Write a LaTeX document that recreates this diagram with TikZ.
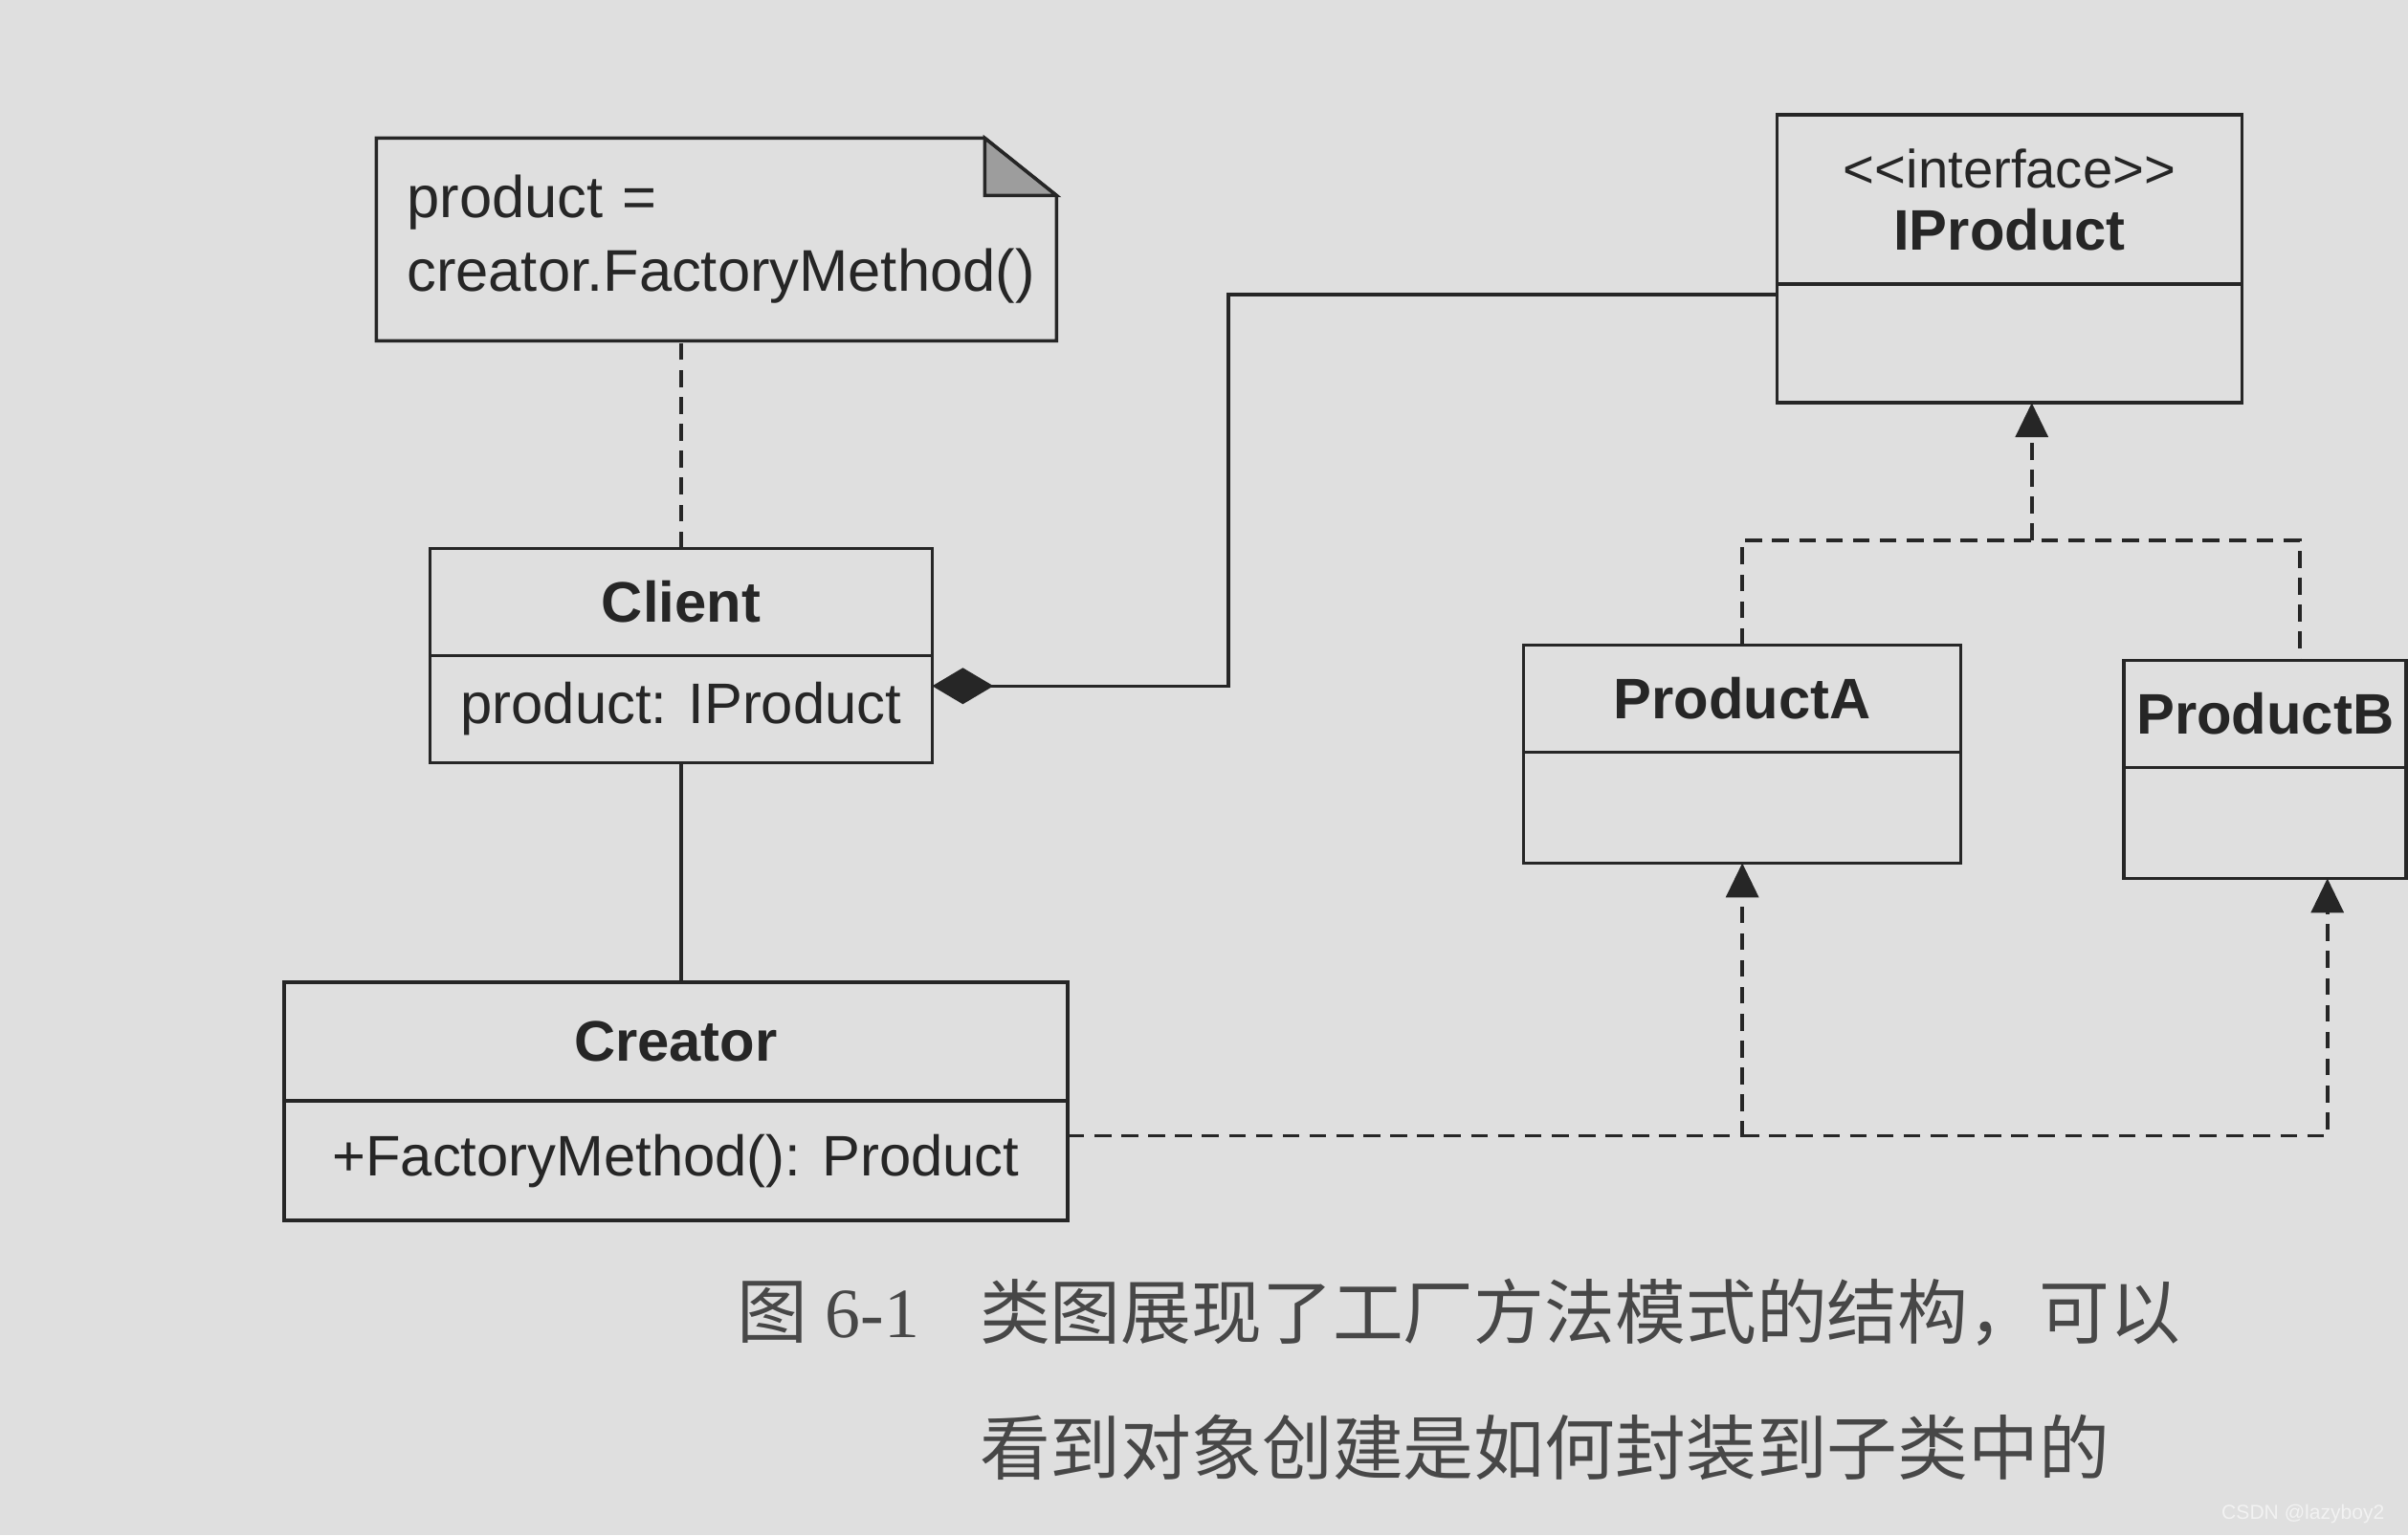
\documentclass[tikz,border=0pt]{standalone}
\usepackage{fontspec}
\setmainfont{Liberation Sans}
\newfontfamily\cjk{Noto Sans CJK SC}
\newfontfamily\serif{Liberation Serif}
\usetikzlibrary{positioning,arrows.meta}
\definecolor{paper}{HTML}{DFDFDF}
\definecolor{ink}{HTML}{262626}
\begin{document}
\begin{tikzpicture}[x=0.01605cm,y=-0.01605cm,
    every node/.style={outer sep=0pt,text=ink},
    classname/.style={draw=ink,line width=1pt,inner sep=0pt,font=\bfseries\fontsize{17}{20}\selectfont},
    classbody/.style={draw=ink,line width=1pt,inner sep=0pt,font=\fontsize{17}{21}\selectfont},
    notetext/.style={inner xsep=0.32cm,inner ysep=0pt,text width=6.47cm,minimum height=2.12cm,align=left,font=\fontsize{17.5}{22}\selectfont},
    caption/.style={inner sep=0pt,text=ink!85,font=\cjk\fontsize{21}{25}\selectfont},
    link/.style={draw=ink,line width=1pt},
    dashlink/.style={link,dash pattern=on 5pt off 3pt},
    realize/.style={dashlink,-{Triangle[length=3.6mm,width=3.4mm]}},
    owns/.style={link,{Diamond[length=6.4mm,width=3.8mm]}-}]
    \fill[paper] (0,0) rectangle (1568,1000);
    \useasboundingbox (0,0) rectangle (1568,1000);

    \node[notetext] (note) at (466.5,156) {product =\\creator.FactoryMethod()};
    \draw[link] (note.north west) -- ([xshift=-0.75cm]note.north east) -- ([yshift=-0.6cm]note.north east) -- (note.south east) -- (note.south west) -- cycle;
    \filldraw[link,fill=ink!45] ([xshift=-0.75cm]note.north east) -- ([xshift=-0.75cm,yshift=-0.6cm]note.north east) -- ([yshift=-0.6cm]note.north east) -- cycle;

    \node[classname,minimum width=5.25cm,minimum height=1.12cm] (client) at (443.5,392) {Client};
    \node[classbody,minimum width=5.25cm,minimum height=1.12cm,below=0pt of client] (clientattr) {product: IProduct};

    \node[classname,minimum width=8.19cm,minimum height=1.24cm] (creator) at (440,678.5) {Creator};
    \node[classbody,minimum width=8.19cm,minimum height=1.25cm,below=0pt of creator] (creatorops) {+FactoryMethod(): Product};

    \node[classname,minimum width=4.86cm,minimum height=1.77cm,align=center,font=\bfseries\fontsize{17}{18.5}\selectfont] (iproduct) at (1308.5,130) {{\mdseries\fontsize{16}{18.5}\selectfont <\kern0pt<interface>\kern0pt>}\\IProduct};
    \node[classbody,minimum width=4.86cm,minimum height=1.24cm,below=0pt of iproduct] (iproductbody) {};

    \node[classname,minimum width=4.57cm,minimum height=1.12cm] (producta) at (1134.5,455) {ProductA};
    \node[classbody,minimum width=4.57cm,minimum height=1.16cm,below=0pt of producta] (productabody) {};

    \node[classname,minimum width=2.95cm,minimum height=1.12cm] (productb) at (1475,465) {ProductB};
    \node[classbody,minimum width=2.95cm,minimum height=1.16cm,below=0pt of productb] (productbbody) {};

    \draw[dashlink] (client.north) -- (client.north |- note.south);
    \draw[link] (clientattr.south) -- (clientattr.south |- creator.north);

    \coordinate (ownstart) at ([yshift=0.24cm]clientattr.east);
    \coordinate (ownbend) at (800,0);
    \coordinate (ownend) at ([yshift=-0.11cm]iproductbody.north west);
    \draw[owns] (ownstart) -- (ownstart -| ownbend) |- (ownend);

    \coordinate (makestart) at ([yshift=0.26cm]creatorops.east);
    \coordinate (makeb) at ([xshift=0.65cm]productbbody.south);
    \draw[realize] (makestart) -| (productabody.south);
    \draw[realize] (makestart -| productabody.south) -| (makeb);

    \coordinate (hub) at (1323,352);
    \coordinate (bjoin) at ([xshift=0.36cm]productb.north);
    \draw[dashlink] (producta.north) |- (hub) -| (bjoin);
    \draw[realize] (hub) -- (hub |- iproductbody.south);

    \node[caption,anchor=west] (figno) at (480,855) {图\hspace{0.25em}{\serif 6-1}};
    \node[caption,anchor=west] (capa) at (638,855) {类图展现了工厂方法模式的结构，可以};
    \node[caption,anchor=west] (capb) at (638,943) {看到对象创建是如何封装到子类中的};

    \node[anchor=east,text=white!90!gray,font=\fontsize{6}{7}\selectfont] (mark) at (1560,986) {CSDN @lazyboy2};
\end{tikzpicture}
\end{document}
